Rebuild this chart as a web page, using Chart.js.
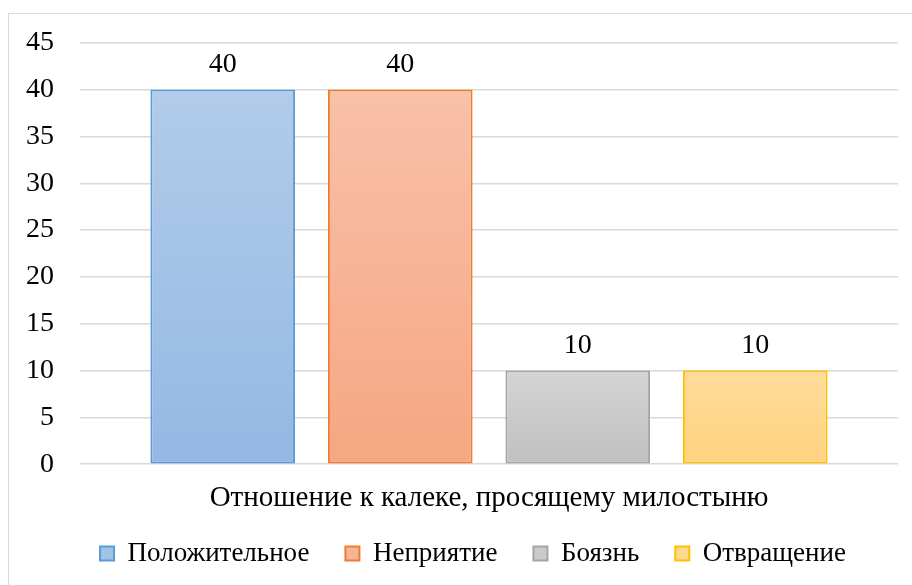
<!DOCTYPE html>
<html>
<head>
<meta charset="utf-8">
<script src="https://cdn.jsdelivr.net/npm/chart.js@4"></script>
<style>
  html, body { margin: 0; padding: 0; background: #fff; overflow: hidden; }
  #frame { position: absolute; left: 8px; top: 13px; width: 1000px; height: 1000px; border: 1px solid #d9d9d9; }
  #wrap { position: absolute; left: 0; top: 0; width: 912px; height: 585px; }
</style>
</head>
<body>
<div id="frame"></div>
<div id="wrap"><canvas id="chart" width="912" height="585"></canvas></div>
<script>
// Bar chart: attitude to a crippled beggar (4 series, one category)

const categories = ['Отношение к калеке, просящему милостыню'];
const seriesNames = ['Положительное', 'Неприятие', 'Боязнь', 'Отвращение'];
const seriesValues = [40, 40, 10, 10];
const yTicks = [0, 5, 10, 15, 20, 25, 30, 35, 40, 45];

const FONT = '"Liberation Serif", "Times New Roman", serif';
const FONT_SIZE = 28;

// top colour, bottom colour, border, legend fill
const palette = [
  { top: '#b2cce9', bottom: '#94b8e4', border: '#5b9bd5', mid: '#a3c2e7' },
  { top: '#f8c1a8', bottom: '#f6a682', border: '#ed7d31', mid: '#f7b395' },
  { top: '#d4d4d4', bottom: '#c0c0c0', border: '#a5a5a5', mid: '#cacaca' },
  { top: '#ffdc9c', bottom: '#ffd27f', border: '#ffc000', mid: '#ffd78d' },
];

function barGradient(top, bottom) {
  return (ctx) => {
    const chart = ctx.chart;
    if (!chart.chartArea || ctx.type !== 'data') return bottom;
    const y = chart.scales.y;
    const yTop = y.getPixelForValue(ctx.raw);
    const yBase = y.getPixelForValue(0);
    const g = chart.ctx.createLinearGradient(0, yTop, 0, yBase);
    g.addColorStop(0, top);
    g.addColorStop(1, bottom);
    return g;
  };
}

const valueLabels = {
  id: 'valueLabels',
  afterDatasetsDraw(chart) {
    const c = chart.ctx;
    c.save();
    c.font = FONT_SIZE + 'px ' + FONT;
    c.fillStyle = '#000';
    c.textAlign = 'center';
    c.textBaseline = 'middle';
    chart.data.datasets.forEach((ds, i) => {
      chart.getDatasetMeta(i).data.forEach((bar, j) => {
        c.fillText(String(ds.data[j]), bar.x, bar.y - 25);
      });
    });
    c.restore();
  }
};

// the legend sits a little right of the canvas centre in the original
const legendShift = {
  id: 'legendShift',
  afterLayout(chart) {
    chart.legend.left += 24;
    chart.legend.right += 24;
  }
};

const datasets = seriesNames.map((name, i) => ({
  label: name,
  data: [seriesValues[i]],
  backgroundColor: barGradient(palette[i].top, palette[i].bottom),
  borderColor: palette[i].border,
  borderWidth: 2,
  borderSkipped: false,
  categoryPercentage: 0.868,
  barPercentage: 0.815,
}));

new Chart(document.getElementById('chart'), {
  type: 'bar',
  data: { labels: categories, datasets },
  plugins: [valueLabels, legendShift],
  options: {
    responsive: false,
    animation: false,
    layout: { padding: { left: 0, right: 14, top: 42, bottom: 8 } },
    plugins: {
      tooltip: { enabled: false },
      legend: {
        position: 'bottom',
        labels: {
          color: '#000',
          font: { family: FONT, size: 27 },
          boxWidth: 14,
          boxHeight: 14,
          padding: 36,
          generateLabels: (chart) => chart.data.datasets.map((ds, i) => ({
            text: ds.label,
            fillStyle: palette[i].mid,
            strokeStyle: palette[i].border,
            lineWidth: 2,
            fontColor: '#000',
            datasetIndex: i,
          })),
        },
      },
    },
    scales: {
      x: {
        grid: { display: false },
        border: { display: false },
        ticks: { display: false },
        title: {
          display: true,
          text: categories[0],
          color: '#000',
          font: { family: FONT, size: 29 },
          padding: { top: 9, bottom: -12 },
        },
      },
      y: {
        min: 0,
        max: 45,
        afterBuildTicks: (axis) => { axis.ticks = yTicks.map(v => ({ value: v })); },
        grid: { color: '#d9d9d9', lineWidth: 1.5, drawTicks: false },
        border: { display: false },
        ticks: { color: '#000', font: { family: FONT, size: FONT_SIZE }, padding: 26 },
      },
    },
  },
});
</script>
</body>
</html>
